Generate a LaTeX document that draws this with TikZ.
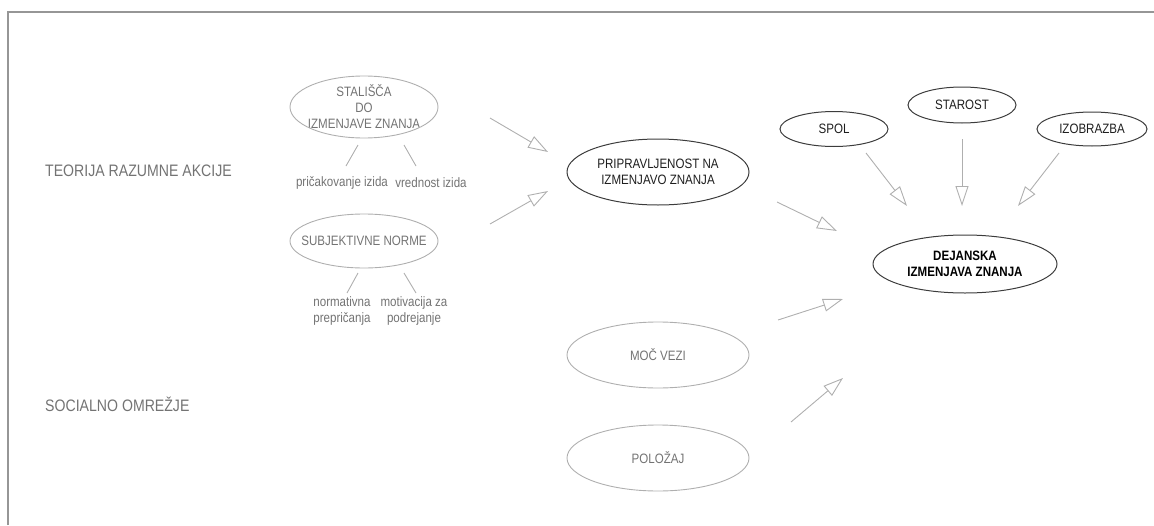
\documentclass[tikz,border=0pt]{standalone}
\usepackage{fontspec}
\setmainfont{Liberation Sans}[FakeStretch=0.85]
\usetikzlibrary{arrows.meta}
\definecolor{framegray}{RGB}{150,150,150}
\definecolor{linegray}{RGB}{175,175,175}
\definecolor{txtgray}{RGB}{115,115,115}
\definecolor{darkline}{RGB}{60,60,60}
\definecolor{darktxt}{RGB}{30,30,30}
\tikzset{
  grouplabel/.style={anchor=west, text=txtgray, font=\fontsize{16.6}{19}\selectfont, inner sep=0pt},
  elltext/.style={align=center, text=txtgray, font=\fontsize{13.6}{16}\selectfont, inner sep=0pt},
  elldarktext/.style={elltext, text=darktxt},
  subtext/.style={align=center, text=txtgray, font=\fontsize{13.6}{15.5}\selectfont, inner sep=0pt},
  ringgray/.style={draw=linegray, line width=0.9pt},
  ringdark/.style={draw=darkline, line width=1pt},
  tick/.style={draw=linegray, line width=0.9pt},
  flow/.style={draw=linegray, line width=0.9pt, -{Triangle[open, length=20pt, width=13pt]}},
}
\begin{document}
\begin{tikzpicture}[x=1pt, y=-1pt]
\useasboundingbox (0,0) rectangle (1154,525);
% outer frame
\draw[framegray, line width=1.5pt] (8,525) -- (8,12) -- (1154,12);

% group headings
\node[grouplabel] (tra) at (45,171) {TEORIJA RAZUMNE AKCIJE};
\node[grouplabel] (som) at (45,404) {SOCIALNO OMREŽJE};

% attitudes and norms
\node[elltext] (stal) at (364,107) {STALIŠČA\\DO\\IZMENJAVE ZNANJA};
\draw[ringgray] (stal.center) ellipse [x radius=74pt, y radius=31pt];
\node[subtext] (pric) at (342,183) {pričakovanje izida};
\node[subtext] (vred) at (431,183) {vrednost izida};
\coordinate (t1a) at (358,145); \coordinate (t1b) at (346,166);
\coordinate (t2a) at (404,145); \coordinate (t2b) at (416,166);
\draw[tick] (t1a) -- (t1b);
\draw[tick] (t2a) -- (t2b);

\node[elltext] (subj) at (364,241) {SUBJEKTIVNE NORME};
\draw[ringgray] (subj.center) ellipse [x radius=74pt, y radius=27pt];
\node[subtext] (norm) at (342,311) {normativna\\prepričanja};
\node[subtext] (moti) at (414,311) {motivacija za\\podrejanje};
\coordinate (t3a) at (358,273); \coordinate (t3b) at (347,293);
\coordinate (t4a) at (404,273); \coordinate (t4b) at (416,293);
\draw[tick] (t3a) -- (t3b);
\draw[tick] (t4a) -- (t4b);

% readiness
\node[elldarktext] (prip) at (658,172) {PRIPRAVLJENOST NA\\IZMENJAVO ZNANJA};
\draw[ringdark] (prip.center) ellipse [x radius=91pt, y radius=33pt];

% social network
\node[elltext] (moc) at (658,355) {MOČ VEZI};
\draw[ringgray] (moc.center) ellipse [x radius=91pt, y radius=33pt];
\node[elltext] (pol) at (658,458) {POLOŽAJ};
\draw[ringgray] (pol.center) ellipse [x radius=91pt, y radius=33pt];

% demographics
\node[elldarktext] (spol) at (834,129) {SPOL};
\draw[ringdark] (spol.center) ellipse [x radius=54pt, y radius=17.5pt];
\node[elldarktext] (star) at (962,105) {STAROST};
\draw[ringdark] (star.center) ellipse [x radius=54pt, y radius=18pt];
\node[elldarktext] (izob) at (1092,129) {IZOBRAZBA};
\draw[ringdark] (izob.center) ellipse [x radius=55pt, y radius=17pt];

% outcome
\node[elldarktext, font=\bfseries\fontsize{13.6}{16}\selectfont, text=black] (dej) at (965,264) {DEJANSKA\\IZMENJAVA ZNANJA};
\draw[ringdark] (dej.center) ellipse [x radius=92pt, y radius=29pt];

% arrow end points
\coordinate (a1s) at (490,118); \coordinate (a1e) at (548,152);
\coordinate (a2s) at (490,224); \coordinate (a2e) at (548,191);
\coordinate (a3s) at (777,202); \coordinate (a3e) at (837,231);
\coordinate (a4s) at (778,320); \coordinate (a4e) at (843,299);
\coordinate (a5s) at (791,422); \coordinate (a5e) at (843,378);
\coordinate (a6s) at (866,153); \coordinate (a6e) at (907,206);
\coordinate (a7s) at (962,139); \coordinate (a7e) at (962,206);
\coordinate (a8s) at (1059,153); \coordinate (a8e) at (1018,206);

\draw[flow] (a1s) -- (a1e);
\draw[flow] (a2s) -- (a2e);
\draw[flow] (a3s) -- (a3e);
\draw[flow] (a4s) -- (a4e);
\draw[flow] (a5s) -- (a5e);
\draw[flow] (a6s) -- (a6e);
\draw[flow] (a7s) -- (a7e);
\draw[flow] (a8s) -- (a8e);
\end{tikzpicture}
\end{document}
